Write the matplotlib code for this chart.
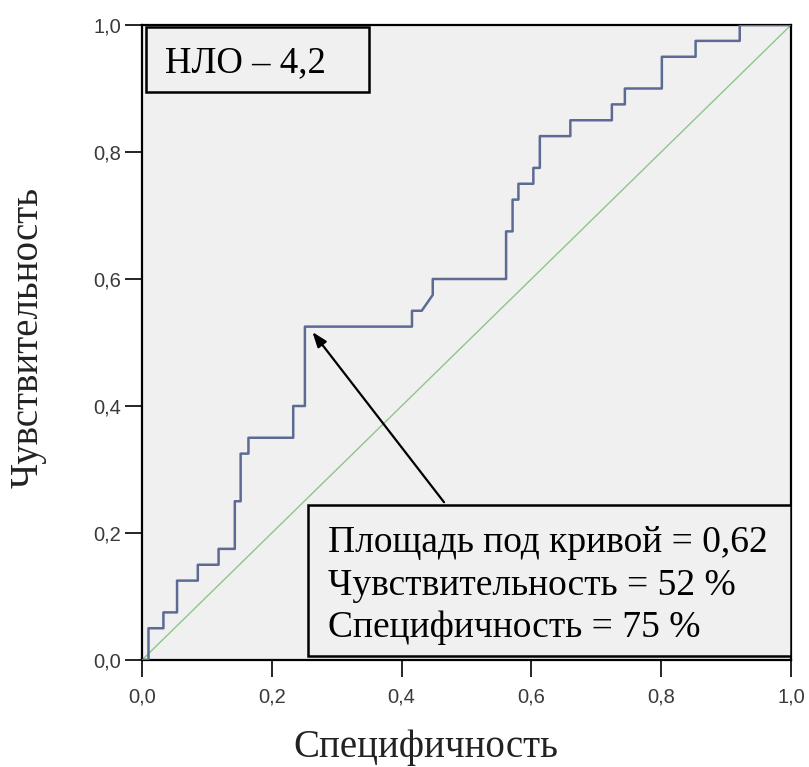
import numpy as np
import matplotlib.pyplot as plt
from matplotlib.patches import Rectangle
from matplotlib.ticker import FuncFormatter

# ROC curve points (1 - specificity, sensitivity)
fpr = [0.0, 0.010, 0.010, 0.033, 0.033, 0.054, 0.054, 0.086, 0.086, 0.118, 0.118,
       0.143, 0.143, 0.152, 0.152, 0.164, 0.164, 0.233, 0.233, 0.251, 0.251,
       0.416, 0.416, 0.431, 0.448, 0.448, 0.561, 0.561, 0.571, 0.571, 0.580, 0.580,
       0.603, 0.603, 0.613, 0.613, 0.660, 0.660, 0.724, 0.724, 0.744, 0.744,
       0.801, 0.801, 0.853, 0.853, 0.921, 0.921, 1.0]
tpr = [0.0, 0.0, 0.050, 0.050, 0.075, 0.075, 0.125, 0.125, 0.150, 0.150, 0.175,
       0.175, 0.250, 0.250, 0.325, 0.325, 0.350, 0.350, 0.400, 0.400, 0.525,
       0.525, 0.550, 0.550, 0.575, 0.600, 0.600, 0.675, 0.675, 0.725, 0.725, 0.750,
       0.750, 0.775, 0.775, 0.825, 0.825, 0.850, 0.850, 0.875, 0.875, 0.900,
       0.900, 0.950, 0.950, 0.975, 0.975, 1.0, 1.0]

ref_line = [0.0, 1.0]
ticks = [0.0, 0.2, 0.4, 0.6, 0.8, 1.0]

cut_point = (0.260, 0.52)
arrow_tail = (0.468, 0.245)

title_text = 'НЛО – 4,2'
info_lines = ['Площадь под кривой = 0,62', 'Чувствительность = 52 %', 'Специфичность = 75 %']

W, H = 809, 767
fig = plt.figure(figsize=(W / 100, H / 100), dpi=100)
ax = fig.add_axes([142 / W, 1 - 660 / H, 649 / W, 635 / H])
ax.set_facecolor('#f0f0f0')

ax.plot(ref_line, ref_line, color='#8cc68c', lw=1.0, zorder=2)
ax.plot(fpr, tpr, color='#5d6b94', lw=1.8, zorder=3)

ax.set_xlim(0, 1)
ax.set_ylim(0, 1)
ax.set_xticks(ticks)
ax.set_yticks(ticks)
fmt = FuncFormatter(lambda v, p: '{:.1f}'.format(v).replace('.', ','))
ax.xaxis.set_major_formatter(fmt)
ax.yaxis.set_major_formatter(fmt)
ax.tick_params(direction='out', length=12, width=1.2, labelsize=14.5, pad=3, colors='black')
ax.xaxis.set_tick_params(pad=8)
for lbl in ax.get_xticklabels() + ax.get_yticklabels():
    lbl.set_family('Liberation Sans')
    lbl.set_color('#3a3a3a')
for s in ax.spines.values():
    s.set_linewidth(1.6)
    s.set_color('black')

# axis titles placed in figure pixels
fig.text(426 / W, 1 - 757 / H, 'Специфичность', family='Liberation Serif',
         fontsize=28, ha='center', va='baseline', color='#222222')
fig.text(28 / W, 1 - 337 / H, 'Чувствительность', family='Liberation Serif',
         fontsize=28, ha='center', va='center', rotation=90, color='#222222')

# "НЛО" box
ax.add_patch(Rectangle((0.006, 0.894), 0.344, 0.103, transform=ax.transAxes,
                       fc='#f0f0f0', ec='black', lw=1.8, zorder=5))
ax.text(0.036, 0.926, title_text, transform=ax.transAxes, family='Liberation Serif',
        fontsize=26.5, va='baseline', ha='left', zorder=6)

ax.annotate('', xy=cut_point, xytext=arrow_tail,
            arrowprops=dict(arrowstyle='-|>,head_length=0.9,head_width=0.33',
                            color='black', lw=1.6), zorder=4)

# info box
ax.add_patch(Rectangle((0.256, 0.006), 0.744, 0.238, transform=ax.transAxes,
                       fc='#f0f0f0', ec='black', lw=1.8, zorder=5))
for i, line in enumerate(info_lines):
    ax.text(0.286, 0.170 - i * 0.067, line, transform=ax.transAxes,
            family='Liberation Serif', fontsize=27, va='baseline', ha='left', zorder=6)

fig.savefig('out.png', dpi=100)
